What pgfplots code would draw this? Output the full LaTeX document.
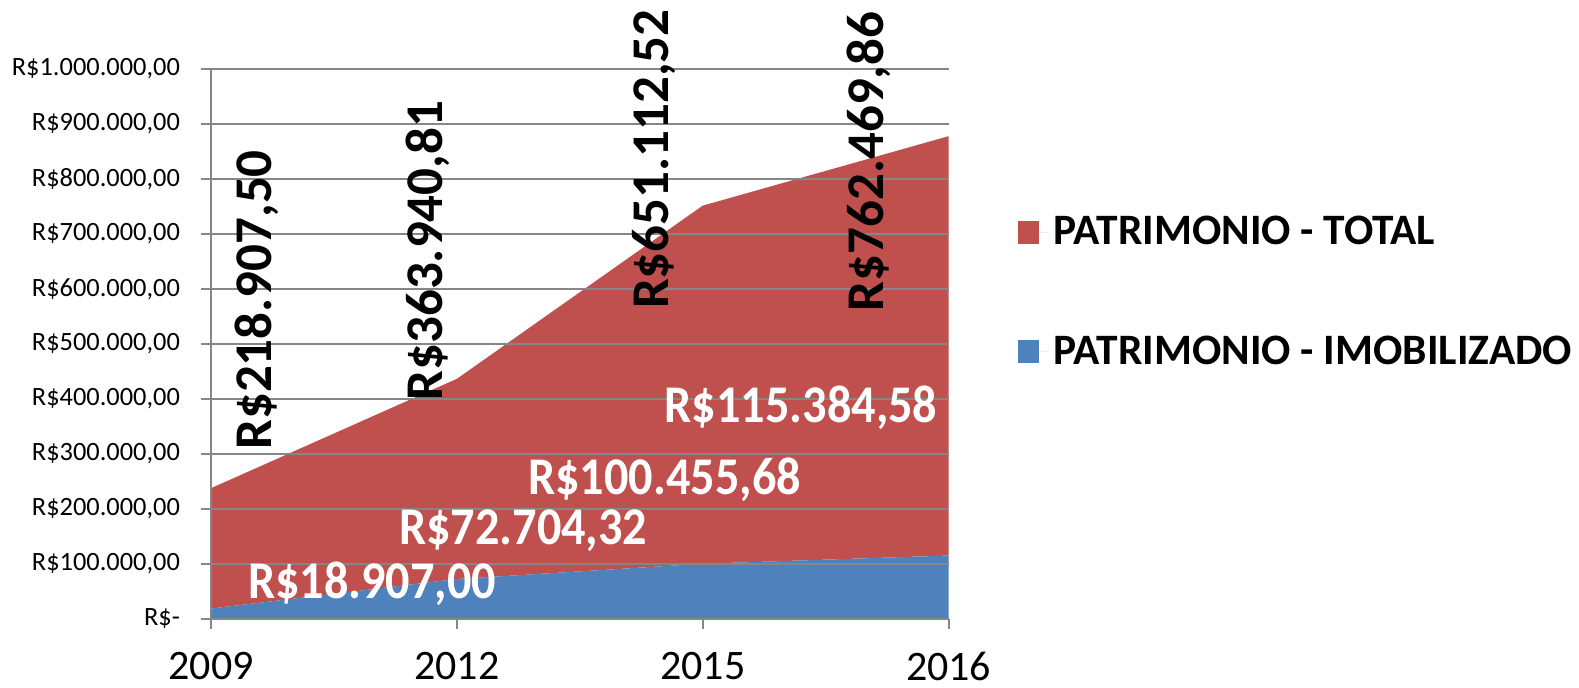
\documentclass[border=0pt]{standalone}
\usepackage{fontspec}
\setmainfont{Carlito}
\usepackage{pgfplots}
\pgfplotsset{compat=1.18}
\definecolor{cRed}{HTML}{C0504D}
\definecolor{cBlue}{HTML}{4F81BD}
\definecolor{cGrid}{HTML}{868686}
\begin{document}
\begin{tikzpicture}
\begin{axis}[
  scale only axis, width=368.8pt, height=275pt,
  xmin=0, xmax=3, ymin=0, ymax=1000000,
  stack plots=y, area style,
  axis lines=left, axis line style={cGrid, line width=1pt, -},
  ymajorgrids, grid style={cGrid, line width=1pt},
  xtick={0,1,2,3}, xticklabels={2009,2012,2015,2016},
  ytick={0,100000,200000,300000,400000,500000,600000,700000,800000,900000,1000000},
  yticklabels={{R\$-},{R\$100.000,00},{R\$200.000,00},{R\$300.000,00},{R\$400.000,00},{R\$500.000,00},{R\$600.000,00},{R\$700.000,00},{R\$800.000,00},{R\$900.000,00},{R\$1.000.000,00}},
  scaled y ticks=false,
  tick align=outside, major tick length=5pt, tick style={cGrid, line width=1pt},
  yticklabel style={font=\fontsize{13.2}{15}\selectfont, xshift=-7pt},
  xticklabel style={font=\fontsize{21}{25}\selectfont, yshift=-8pt},
  clip=false, reverse legend,
  legend cell align=left,
  legend image code/.code={\fill[#1] (0pt,-5.75pt) rectangle (10.5pt,5.75pt); \path (0pt,0pt) -- (16pt,0pt);},
  legend style={draw=none, fill=none, at={(rel axis cs:1.093,0.595)}, anchor=west,
    font=\bfseries\fontsize{21.7}{26}\selectfont, row sep=40pt, inner sep=0pt,
    nodes={inner sep=2pt, anchor=west}},
]
\addplot[fill=cBlue, draw=none] coordinates {(0,18907) (1,72704.32) (2,100455.68) (3,115384.58)} \closedcycle;
\addlegendentry{PATRIMONIO - IMOBILIZADO}
\addplot[fill=cRed, draw=none] coordinates {(0,218907.50) (1,363940.81) (2,651112.52) (3,762469.86)} \closedcycle;
\addlegendentry{PATRIMONIO - TOTAL}
\coordinate (r1) at (axis cs:0.186,580000);
\coordinate (r2) at (axis cs:0.882,669600);
\coordinate (r3) at (axis cs:1.800,836000);
\coordinate (r4) at (axis cs:2.674,832000);
\coordinate (w1) at (axis cs:0.655,63600);
\coordinate (w2) at (axis cs:1.270,160000);
\coordinate (w3) at (axis cs:1.845,253000);
\coordinate (w4) at (axis cs:2.400,384000);
\end{axis}
\begin{scope}[every node/.style={font=\bfseries\fontsize{26.5}{30}\selectfont, inner sep=0pt}]
\node[rotate=90] at (r1) {R\$218.907,50};
\node[rotate=90] at (r2) {R\$363.940,81};
\node[rotate=90] at (r3) {R\$651.112,52};
\node[rotate=90] at (r4) {R\$762.469,86};
\node[text=white, xscale=0.91] at (w1) {R\$18.907,00};
\node[text=white, xscale=0.91] at (w2) {R\$72.704,32};
\node[text=white, xscale=0.91] at (w3) {R\$100.455,68};
\node[text=white, xscale=0.91] at (w4) {R\$115.384,58};
\end{scope}
\pgfresetboundingbox
\path (-105.5pt,-34.5pt) rectangle (684pt,309.5pt);
\end{tikzpicture}
\end{document}
